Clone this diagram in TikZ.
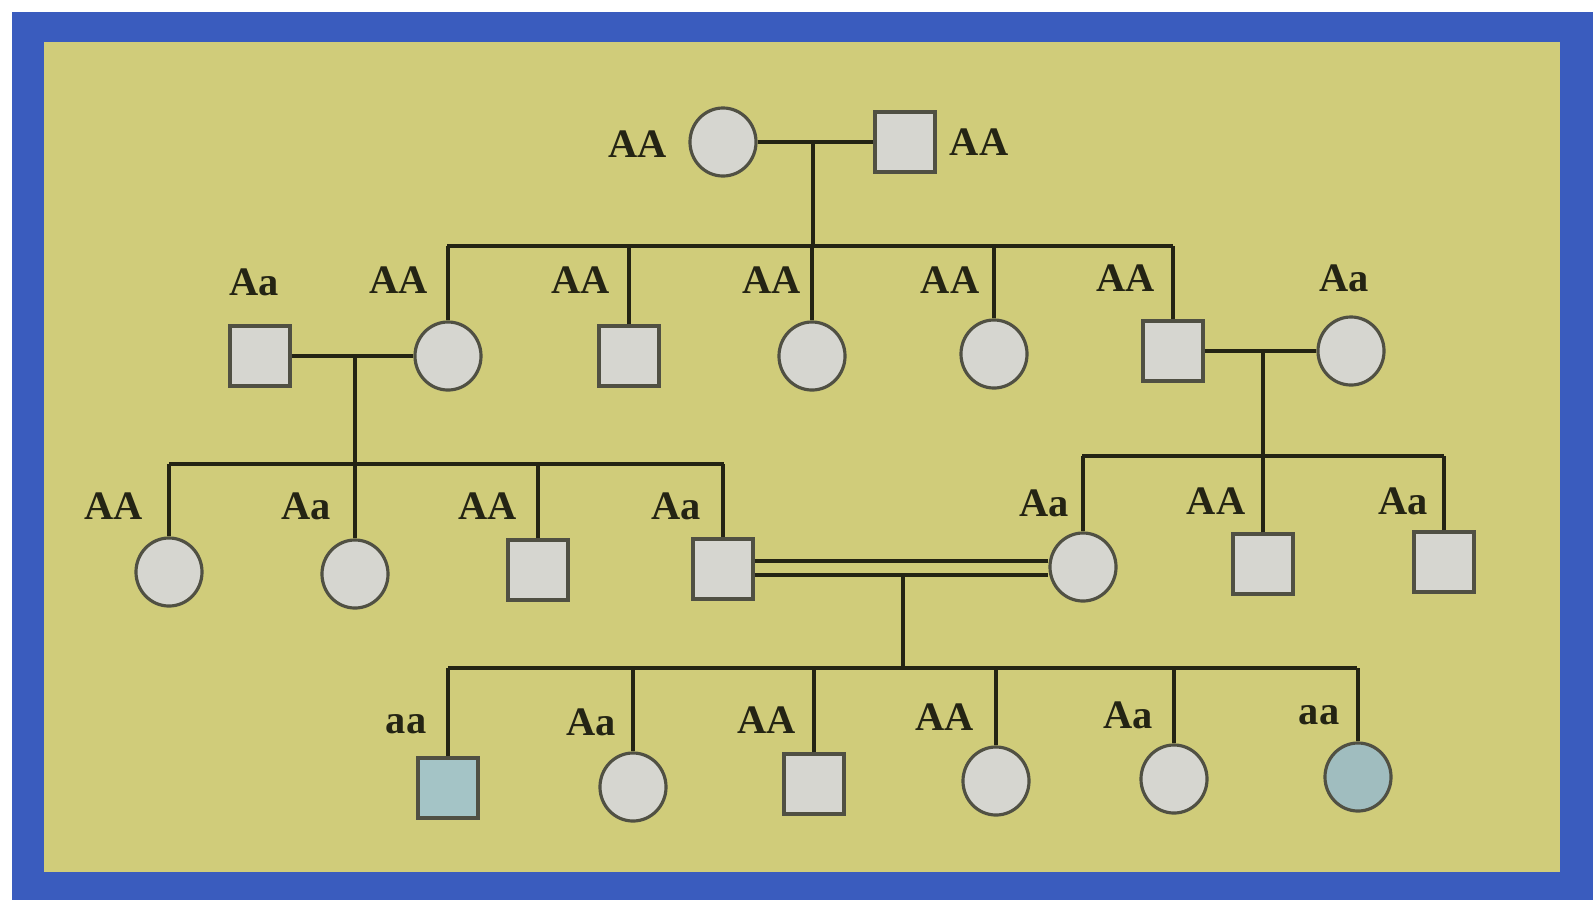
\documentclass[tikz,border=0pt]{standalone}
\usepackage{fontspec}
\setmainfont{Liberation Serif}
\usetikzlibrary{shapes.geometric}

\definecolor{frameblue}{RGB}{58,92,190}
\definecolor{paper}{RGB}{208,204,122}
\definecolor{shade}{RGB}{214,214,208}
\definecolor{sick}{RGB}{164,196,198}
\definecolor{ink}{RGB}{36,36,20}

\begin{document}
\begin{tikzpicture}[x=0.01cm,y=-0.01cm,
  male/.style={draw=ink!80,line width=0.9pt,fill=shade,minimum size=0.6cm,inner sep=0pt},
  female/.style={ellipse,draw=ink!80,line width=0.9pt,fill=shade,minimum width=0.66cm,minimum height=0.68cm,inner sep=0pt},
  geno/.style={font=\bfseries\fontsize{11.5}{14}\selectfont,text=ink,inner sep=0pt},
  mate/.style={ink,line width=1.4pt},
  kid/.style={ink,line width=0.9pt}]
% Frame and paper
\fill[white] (0,0) rectangle (1593,902);
\fill[frameblue] (12,12) rectangle (1593,900);
\fill[paper] (44,42) rectangle (1560,872);

% Generation I
\node[female] (f0) at (723,142) {};
\node[male] (m0) at (905,142) {};
\node[geno] (lf0) at (638,144) {AA};
\node[geno] (lm0) at (979,142) {AA};
\coordinate (u0) at (813,142);
\coordinate (s0) at (813,246);
\coordinate (s0l) at (447,246);
\coordinate (s0r) at (1173,246);
\draw[mate] (f0) -- (m0);
\draw[mate] (u0) -- (s0);
\draw[mate] (s0l) -- (s0r);

% Generation II
\node[male] (a1) at (260,356) {};
\node[female] (a2) at (448,356) {};
\node[male] (a3) at (629,356) {};
\node[female] (a4) at (812,356) {};
\node[female] (a5) at (994,354) {};
\node[male] (a6) at (1173,351) {};
\node[female] (a7) at (1351,351) {};
\node[geno] (la1) at (254,282) {Aa};
\node[geno] (la2) at (399,280) {AA};
\node[geno] (la3) at (581,280) {AA};
\node[geno] (la4) at (772,280) {AA};
\node[geno] (la5) at (950,280) {AA};
\node[geno] (la6) at (1126,278) {AA};
\node[geno] (la7) at (1344,278) {Aa};
\foreach \n in {a2,a3,a4,a5,a6}
  \draw[kid] (\n) -- (\n |- s0);

% Couples of generation II
\coordinate (u1) at (355,356);
\coordinate (s1) at (355,464);
\coordinate (s1l) at (169,464);
\coordinate (s1r) at (724,464);
\draw[mate] (a1) -- (a2);
\draw[mate] (u1) -- (s1);
\draw[mate] (s1l) -- (s1r);
\coordinate (u2) at (1263,351);
\coordinate (s2) at (1263,456);
\coordinate (s2l) at (1082,456);
\coordinate (s2r) at (1444,456);
\draw[mate] (a6) -- (a7);
\draw[mate] (u2) -- (s2);
\draw[mate] (s2l) -- (s2r);

% Generation III
\node[female] (b1) at (169,572) {};
\node[female] (b2) at (355,574) {};
\node[male] (b3) at (538,570) {};
\node[male] (b4) at (723,569) {};
\node[female] (b5) at (1083,567) {};
\node[male] (b6) at (1263,564) {};
\node[male] (b7) at (1444,562) {};
\node[geno] (lb1) at (114,506) {AA};
\node[geno] (lb2) at (306,506) {Aa};
\node[geno] (lb3) at (488,506) {AA};
\node[geno] (lb4) at (676,506) {Aa};
\node[geno] (lb5) at (1044,503) {Aa};
\node[geno] (lb6) at (1216,501) {AA};
\node[geno] (lb7) at (1403,501) {Aa};
\foreach \n in {b1,b2,b3,b4}
  \draw[kid] (\n) -- (\n |- s1);
\foreach \n in {b5,b6,b7}
  \draw[kid] (\n) -- (\n |- s2);

% Cousin marriage
\coordinate (dbl1) at (0,561);
\coordinate (dbl2) at (0,575);
\draw[mate] (b4.east |- dbl1) -- (b5.west |- dbl1);
\draw[mate] (b4.east |- dbl2) -- (b5.west |- dbl2);
\coordinate (u3) at (903,575);
\coordinate (s3) at (903,668);
\coordinate (s3l) at (448,668);
\coordinate (s3r) at (1357,668);
\draw[mate] (u3) -- (s3);
\draw[mate] (s3l) -- (s3r);

% Generation IV
\node[male,fill=sick] (c1) at (448,788) {};
\node[female] (c2) at (633,787) {};
\node[male] (c3) at (814,784) {};
\node[female] (c4) at (996,781) {};
\node[female] (c5) at (1174,779) {};
\node[female,fill=sick!90!gray] (c6) at (1358,777) {};
\node[geno] (lc1) at (406,724) {aa};
\node[geno] (lc2) at (591,722) {Aa};
\node[geno] (lc3) at (767,720) {AA};
\node[geno] (lc4) at (945,717) {AA};
\node[geno] (lc5) at (1128,715) {Aa};
\node[geno] (lc6) at (1319,715) {aa};
\foreach \n in {c1,c2,c3,c4,c5,c6}
  \draw[kid] (\n) -- (\n |- s3);
\end{tikzpicture}
\end{document}
